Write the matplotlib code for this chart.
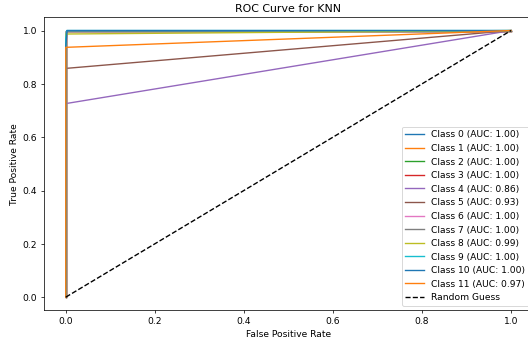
import numpy as np
import matplotlib
matplotlib.use("Agg")
from matplotlib import pyplot as plt

# ROC points per class (fpr, tpr)
class_fpr = [
    [0, 0.0, 1],
    [0, 0.0, 1],
    [0, 0.0, 1],
    [0, 0.0, 1],
    [0, 0.0, 1],
    [0, 0.0, 1],
    [0, 0.0, 1],
    [0, 0.0, 1],
    [0, 0.0, 1],
    [0, 0.0, 0.002, 1],
    [0, 0.0, 0.003, 1],
    [0, 0.0, 1],
]
class_tpr = [
    [0, 1.0, 1],
    [0, 1.0, 1],
    [0, 1.0, 1],
    [0, 1.0, 1],
    [0, 0.726, 1],
    [0, 0.858, 1],
    [0, 1.0, 1],
    [0, 1.0, 1],
    [0, 0.987, 1],
    [0, 0.97, 1.0, 1],
    [0, 0.94, 1.0, 1],
    [0, 0.937, 1],
]
class_auc = [1.00, 1.00, 1.00, 1.00, 0.86, 0.93, 1.00, 1.00, 0.99, 1.00, 1.00, 0.97]

fig = plt.figure(figsize=(8, 5.2), dpi=66)
W, H = 528.0, 343.0
ax = fig.add_axes([43.5 / W, (H - 310.5) / H, (533.3 - 43.5) / W, (310.5 - 17.4) / H])

for i in range(len(class_auc)):
    ax.plot(class_fpr[i], class_tpr[i], lw=1.5,
            label='Class {0} (AUC: {1:.2f})'.format(i, class_auc[i]))

ax.plot([0, 1], [0, 1], 'k--', lw=1.5, label='Random Guess')

ax.set_xlabel('False Positive Rate')
ax.set_ylabel('True Positive Rate')
ax.set_title('ROC Curve for KNN')
ax.legend(loc='lower right')

fig.savefig('out.png', dpi=66)
